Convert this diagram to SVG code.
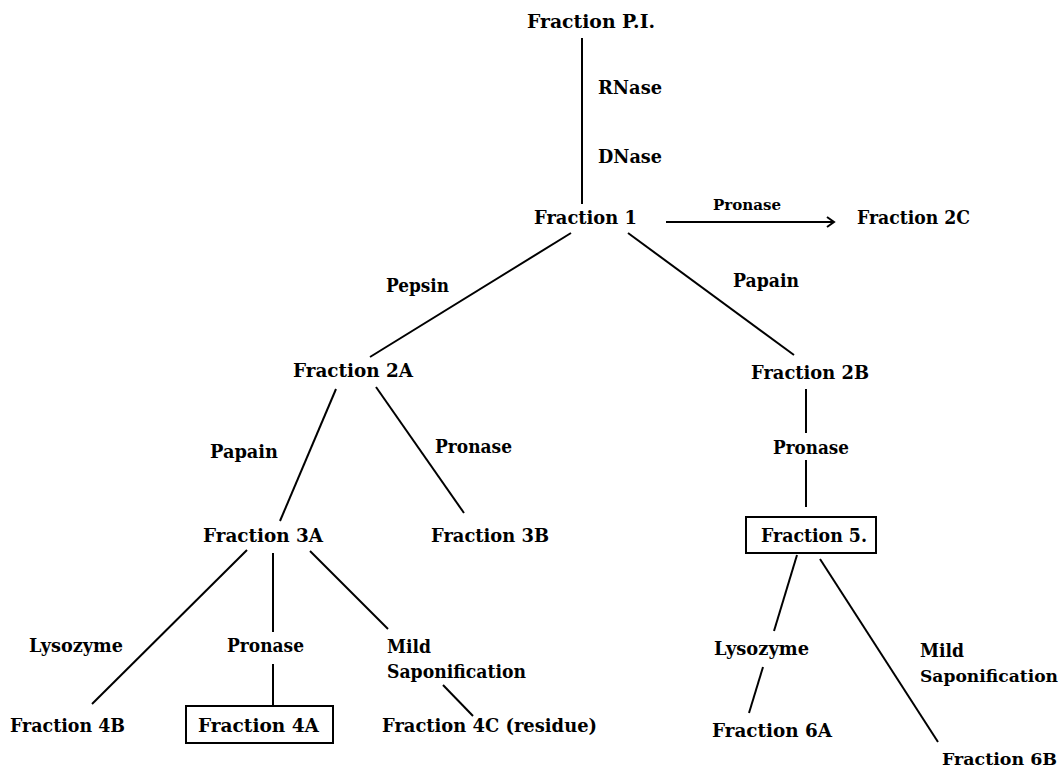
<svg xmlns="http://www.w3.org/2000/svg" width="1064" height="772" viewBox="0 0 1064 772">
<style>
text{font-family:"DejaVu Serif","Liberation Serif",serif;font-weight:bold;font-size:19px;fill:#000}
.sm{font-size:15px}
.edge{font-size:16.5px}
.ln{stroke:#000;stroke-width:2;fill:none}
.box{stroke:#000;stroke-width:2;fill:none}
</style>
<defs>
<marker id="arr" markerWidth="12" markerHeight="12" refX="10" refY="6" orient="auto" markerUnits="userSpaceOnUse">
<path d="M3,1 L10,6 L3,11" fill="none" stroke="#000" stroke-width="2"/>
</marker>
</defs>
<rect width="1064" height="772" fill="#fff"/>
<g id="connectors">
<line class="ln" x1="582" y1="38" x2="582" y2="204"/>
<line class="ln" x1="666" y1="222" x2="834" y2="222" marker-end="url(#arr)"/>
<line class="ln" x1="571" y1="233" x2="370" y2="357"/>
<line class="ln" x1="628" y1="233" x2="794" y2="355"/>
<line class="ln" x1="336" y1="389" x2="280" y2="521"/>
<line class="ln" x1="376" y1="387" x2="464" y2="513"/>
<line class="ln" x1="806" y1="389" x2="806" y2="433"/>
<line class="ln" x1="806" y1="460" x2="806" y2="507"/>
<line class="ln" x1="797" y1="555" x2="774" y2="631"/>
<line class="ln" x1="763" y1="667" x2="749" y2="713"/>
<line class="ln" x1="820" y1="559" x2="938" y2="742"/>
<line class="ln" x1="247" y1="550" x2="92" y2="704"/>
<line class="ln" x1="273" y1="553" x2="273" y2="632"/>
<line class="ln" x1="273" y1="664" x2="273" y2="706"/>
<line class="ln" x1="310" y1="551" x2="388" y2="629"/>
<line class="ln" x1="443" y1="685" x2="473" y2="716"/>
</g>
<g id="labels">
<text x="598" y="94" textLength="64" lengthAdjust="spacingAndGlyphs">RNase</text>
<text x="598" y="163" textLength="64" lengthAdjust="spacingAndGlyphs">DNase</text>
<text class="sm" x="713" y="210" textLength="68" lengthAdjust="spacingAndGlyphs">Pronase</text>
<text x="386" y="292" textLength="63" lengthAdjust="spacingAndGlyphs">Pepsin</text>
<text x="733" y="287" textLength="66" lengthAdjust="spacingAndGlyphs">Papain</text>
<text x="210" y="458" textLength="68" lengthAdjust="spacingAndGlyphs">Papain</text>
<text x="435" y="453" textLength="77" lengthAdjust="spacingAndGlyphs">Pronase</text>
<text x="773" y="454" textLength="76" lengthAdjust="spacingAndGlyphs">Pronase</text>
<text x="714" y="655" textLength="95" lengthAdjust="spacingAndGlyphs">Lysozyme</text>
<text x="920" y="657" textLength="44" lengthAdjust="spacingAndGlyphs">Mild</text>
<text class="edge" x="920" y="682" textLength="138" lengthAdjust="spacingAndGlyphs">Saponification</text>
<text x="29" y="652" textLength="94" lengthAdjust="spacingAndGlyphs">Lysozyme</text>
<text x="227" y="652" textLength="77" lengthAdjust="spacingAndGlyphs">Pronase</text>
<text x="387" y="653" textLength="44" lengthAdjust="spacingAndGlyphs">Mild</text>
<text x="387" y="678" textLength="139" lengthAdjust="spacingAndGlyphs">Saponification</text>
</g>
<g id="node-PI"><text x="527" y="28" textLength="128" lengthAdjust="spacingAndGlyphs">Fraction P.I.</text></g>
<g id="node-1"><text x="534" y="224" textLength="103" lengthAdjust="spacingAndGlyphs">Fraction 1</text></g>
<g id="node-2C"><text x="857" y="224" textLength="113" lengthAdjust="spacingAndGlyphs">Fraction 2C</text></g>
<g id="node-2A"><text x="293" y="377" textLength="120" lengthAdjust="spacingAndGlyphs">Fraction 2A</text></g>
<g id="node-2B"><text x="751" y="379" textLength="118" lengthAdjust="spacingAndGlyphs">Fraction 2B</text></g>
<g id="node-3A"><text x="203" y="542" textLength="120" lengthAdjust="spacingAndGlyphs">Fraction 3A</text></g>
<g id="node-3B"><text x="431" y="542" textLength="118" lengthAdjust="spacingAndGlyphs">Fraction 3B</text></g>
<g id="node-5"><rect class="box" x="746" y="517" width="130" height="36"/><text x="761" y="542" textLength="106" lengthAdjust="spacingAndGlyphs">Fraction 5.</text></g>
<g id="node-6A"><text x="712" y="737" textLength="120" lengthAdjust="spacingAndGlyphs">Fraction 6A</text></g>
<g id="node-6B"><text class="edge" x="942" y="765" textLength="115" lengthAdjust="spacingAndGlyphs">Fraction 6B</text></g>
<g id="node-4B"><text x="10" y="732" textLength="115" lengthAdjust="spacingAndGlyphs">Fraction 4B</text></g>
<g id="node-4A"><rect class="box" x="186" y="706" width="147" height="37"/><text x="198" y="732" textLength="121" lengthAdjust="spacingAndGlyphs">Fraction 4A</text></g>
<g id="node-4C"><text x="382" y="732" textLength="215" lengthAdjust="spacingAndGlyphs">Fraction 4C (residue)</text></g>
</svg>
